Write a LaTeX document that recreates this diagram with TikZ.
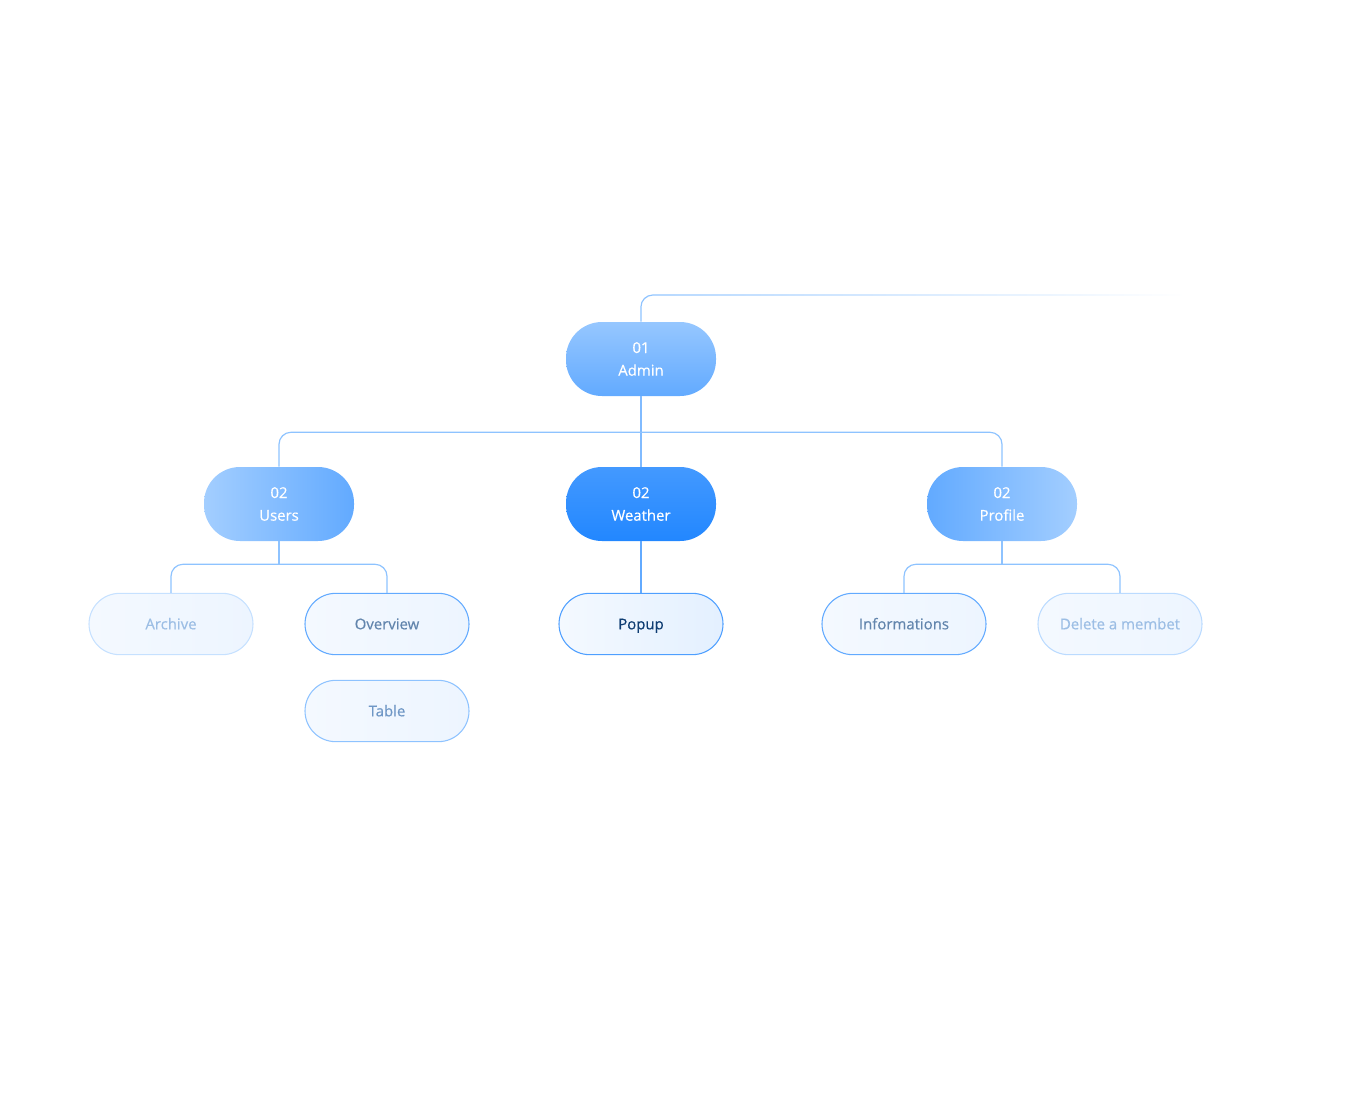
\documentclass[tikz,border=0pt]{standalone}
\usepackage{fontspec}
\setmainfont{Open Sans}[FakeBold=0.5]
\usetikzlibrary{fadings,calc}

\definecolor{linkblue}{HTML}{8EC3FF}
\definecolor{deepblue}{HTML}{2287FF}
\definecolor{midblue}{HTML}{62AAFF}
\definecolor{paleblue}{HTML}{A3CEFF}
\definecolor{leaffill}{HTML}{EDF5FF}
\definecolor{leafpale}{HTML}{F4F9FF}

\begin{document}
\begin{tikzpicture}[x=0.75pt, y=-0.75pt,
    every node/.style={font=\fontsize{11.2pt}{17pt}\selectfont},
    topic/.style={minimum width=112.5pt, minimum height=55.5pt, rounded corners=27pt,
        align=center, text=white, inner sep=0pt},
    leaf/.style={minimum width=123pt, minimum height=46pt, rounded corners=23pt,
        draw=#1, line width=0.8pt, left color=leafpale, right color=leaffill, inner sep=0pt,
        text height=10.4pt, text depth=2.4pt},
    link/.style={draw=linkblue, line width=0.9pt, rounded corners=9pt}]

    \useasboundingbox (0,0) rectangle (1372,1110);

    % main topics
    \node[topic, top color=paleblue!80!midblue, bottom color=midblue] (admin) at (641,359) {01\\Admin};
    \node[topic, left color=paleblue, right color=midblue] (users) at (279,504) {02\\Users};
    \node[topic, top color=deepblue!85!white, bottom color=deepblue] (weather) at (641,504) {02\\Weather};
    \node[topic, left color=midblue, right color=paleblue] (profile) at (1002,504) {02\\Profile};

    % leaves
    \node[leaf=linkblue!50, text=paleblue!80!gray] (archive) at (171,624) {Archive};
    \node[leaf=midblue, text=midblue!60!black!80] (overview) at (387,624) {Overview};
    \node[leaf=linkblue, text=midblue!55!gray] (table) at (387,711) {Table};
    \node[leaf=deepblue!80, right color=leaffill!90!linkblue, text=deepblue!45!black] (popup) at (641,624) {Popup};
    \node[leaf=midblue, text=midblue!60!black!80] (infos) at (904,624) {Informations};
    \node[leaf=linkblue!60, text=paleblue!80!gray] (delete) at (1120,624) {Delete a membet};

    % hubs
    \coordinate (hubA) at ($(admin.south)+(0,36)$);
    \coordinate (hubU) at ($(users.south)+(0,23)$);
    \coordinate (hubP) at ($(profile.south)+(0,23)$);
    \coordinate (tail) at (1185,295);

    % connectors
    \draw[link, path fading=east] (admin.north) |- (tail);
    \draw[link, draw=midblue!80] (admin) -- (weather);
    \draw[link] (hubA) -| (users.north);
    \draw[link] (hubA) -| (profile.north);
    \draw[link] (users) -- (hubU);
    \draw[link] (hubU) -| (archive.north);
    \draw[link] (hubU) -| (overview.north);
    \draw[link, draw=midblue] (weather) -- (popup);
    \draw[link] (profile) -- (hubP);
    \draw[link] (hubP) -| (infos.north);
    \draw[link] (hubP) -| (delete.north);
\end{tikzpicture}
\end{document}
